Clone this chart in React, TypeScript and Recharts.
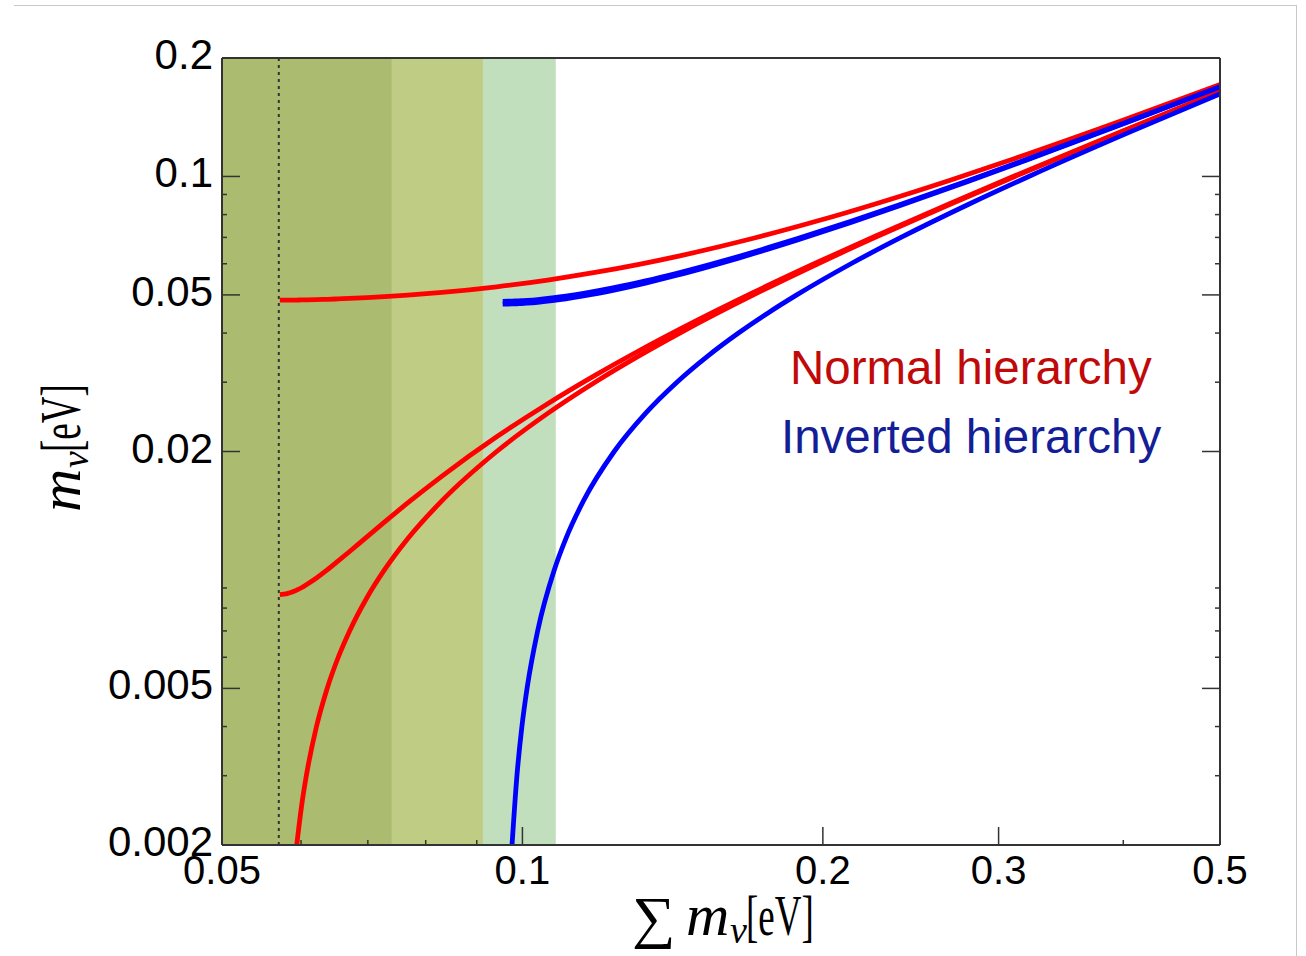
import React from 'react';
import { LineChart, Line, XAxis, YAxis, ReferenceArea, ReferenceLine } from 'recharts';

// normal hierarchy
const nhSum = [0.05714, 0.05765, 0.05821, 0.05879, 0.05941, 0.06006, 0.06074, 0.06218, 0.06373, 0.06538, 0.06712, 0.06985, 0.07273, 0.07674, 0.08307, 0.09423, 0.106, 0.11823, 0.13085, 0.14378, 0.17039, 0.19776, 0.22568, 0.26829, 0.31151, 0.39903, 0.5022];
const nhM1 = [null, null, null, null, 0.002, 0.0025, 0.003, 0.004, 0.005, 0.006, 0.007, 0.0085, 0.01, 0.012, 0.015, 0.02, 0.025, 0.03, 0.035, 0.04, 0.05, 0.06, 0.07, 0.085, 0.1, 0.13, 0.165];
const nhM2 = [0.00866, 0.00868, 0.00872, 0.00879, 0.00889, 0.00901, 0.00917, 0.00954, 0.01, 0.01054, 0.01114, 0.01214, 0.01323, 0.0148, 0.01732, 0.02179, 0.02646, 0.03123, 0.03606, 0.04093, 0.05074, 0.06062, 0.07053, 0.08544, 0.10037, 0.13029, 0.16523];
const nhM3 = [0.04848, 0.04848, 0.04849, 0.0485, 0.04852, 0.04854, 0.04857, 0.04864, 0.04873, 0.04885, 0.04898, 0.04922, 0.0495, 0.04994, 0.05074, 0.05244, 0.05454, 0.05701, 0.05979, 0.06285, 0.06964, 0.07714, 0.08515, 0.09785, 0.11113, 0.13874, 0.17197];

// inverted hierarchy
const ihSum = [0.09555, 0.09657, 0.09763, 0.09874, 0.09988, 0.10107, 0.10357, 0.10762, 0.11052, 0.11515, 0.12358, 0.13284, 0.14283, 0.15345, 0.16462, 0.17626, 0.18831, 0.2134, 0.2395, 0.28001, 0.32165, 0.407, 0.50272];
const ihM3 = [null, null, 0.002, 0.003, 0.004, 0.005, 0.007, 0.01, 0.012, 0.015, 0.02, 0.025, 0.03, 0.035, 0.04, 0.045, 0.05, 0.06, 0.07, 0.085, 0.1, 0.13, 0.163];
const ihM1 = [0.04738, 0.04739, 0.04742, 0.04748, 0.04755, 0.04765, 0.0479, 0.04843, 0.04888, 0.0497, 0.05143, 0.05357, 0.05608, 0.05891, 0.06201, 0.06535, 0.06888, 0.07645, 0.08453, 0.09731, 0.11066, 0.13837, 0.16975];
const ihM2 = [0.04817, 0.04818, 0.04821, 0.04826, 0.04833, 0.04843, 0.04867, 0.04919, 0.04964, 0.05045, 0.05215, 0.05427, 0.05675, 0.05954, 0.06261, 0.06592, 0.06943, 0.07694, 0.08497, 0.0977, 0.111, 0.13864, 0.16997];

// shaded bounds on the sum
const bandEdges = [0.05, 0.074, 0.0913, 0.108];
const bandColors = ['#abbc71', '#bfcc83', '#c1dfbc'];
const minSum = 0.057;

const xMajor = [0.05, 0.1, 0.2, 0.3, 0.5];
const xMinor = [0.06, 0.07, 0.08, 0.09, 0.4];
const yMajor = [0.2, 0.1, 0.05, 0.02, 0.005, 0.002];
const yMinor = [0.09, 0.08, 0.07, 0.06, 0.04, 0.03, 0.009, 0.008, 0.007, 0.006, 0.004, 0.003];

const xTicks = [...xMajor, ...xMinor].sort((a, b) => a - b);
const yTicks = [...yMajor, ...yMinor].sort((a, b) => a - b);

const nhData = nhSum.map((s, i) => ({ x: s, m1: nhM1[i], m2: nhM2[i], m3: nhM3[i] }));
const ihData = ihSum.map((s, i) => ({ x: s, m1: ihM1[i], m2: ihM2[i], m3: ihM3[i] }));

const SANS = '"Liberation Sans", Arial, Helvetica, sans-serif';
const SERIF = '"Liberation Serif", "Times New Roman", serif';
const AX = '#333';
const LW = 4.8;

const tickLen = (v: number, majors: number[]) => (majors.includes(v) ? 18 : 5);

const LeftTick = ({ x, y, payload }: any) => {
  const v = payload.value;
  const len = tickLen(v, yMajor);
  return (
    <g>
      <line x1={x} x2={x + len} y1={y} y2={y} stroke={AX} strokeWidth={1.5} />
      {yMajor.includes(v) && (
        <text x={x - 9} y={y + 11} textAnchor="end" fontSize={42} fontFamily={SANS} fill="#000">
          {String(v)}
        </text>
      )}
    </g>
  );
};

const RightTick = ({ x, y, payload }: any) => {
  const len = tickLen(payload.value, yMajor);
  return <line x1={x} x2={x - len} y1={y} y2={y} stroke={AX} strokeWidth={1.5} />;
};

const BottomTick = ({ x, y, payload }: any) => {
  const v = payload.value;
  const len = tickLen(v, xMajor);
  return (
    <g>
      <line x1={x} x2={x} y1={y} y2={y - len} stroke={AX} strokeWidth={1.5} />
      {xMajor.includes(v) && (
        <text x={x} y={y + 39} textAnchor="middle" fontSize={40} fontFamily={SANS} fill="#000">
          {String(v)}
        </text>
      )}
    </g>
  );
};

const TopTick = ({ x, y, payload }: any) => {
  const len = tickLen(payload.value, xMajor);
  return <line x1={x} x2={x} y1={y} y2={y + len} stroke={AX} strokeWidth={1.5} />;
};

// "m_nu[eV]" drawn from its left end on the baseline
const MassLabel = () => (
  <g>
    <text x={0} y={0} fontFamily={SERIF} fontStyle="italic" fontSize={60} fill="#000">m</text>
    <text x={44} y={8} fontFamily={SERIF} fontStyle="italic" fontSize={38} fill="#000">ν</text>
    <text transform="translate(60 0) scale(0.66 1)" x={0} y={0} fontFamily={SERIF} fontSize={56} fill="#000">[eV]</text>
  </g>
);

export default function App() {
  return (
    <div style={{ position: 'absolute', left: 0, top: 0, width: 1306, height: 956, background: '#fff' }}>
      <div
        style={{
          position: 'absolute',
          left: 14,
          top: 5,
          width: 1282,
          height: 951,
          borderTop: '1px solid #c8c8c8',
          borderRight: '1px solid #c8c8c8',
        }}
      />
      <LineChart width={1306} height={956} margin={{ top: 57, right: 85, bottom: 51, left: 0 }}>
        <XAxis
          dataKey="x"
          type="number"
          scale="log"
          domain={[0.05, 0.5]}
          allowDataOverflow
          ticks={xTicks}
          interval={0}
          tick={<BottomTick />}
          tickLine={false}
          tickSize={0}
          tickMargin={0}
          height={60}
          axisLine={{ stroke: AX, strokeWidth: 2 }}
        />
        <XAxis
          xAxisId="t"
          orientation="top"
          type="number"
          scale="log"
          domain={[0.05, 0.5]}
          allowDataOverflow
          ticks={xTicks}
          interval={0}
          tick={<TopTick />}
          tickLine={false}
          tickSize={0}
          tickMargin={0}
          height={1}
          axisLine={{ stroke: AX, strokeWidth: 2 }}
        />
        <YAxis
          type="number"
          scale="log"
          domain={[0.002, 0.2]}
          allowDataOverflow
          ticks={yTicks}
          interval={0}
          tick={<LeftTick />}
          tickLine={false}
          tickSize={0}
          tickMargin={0}
          width={222}
          axisLine={{ stroke: AX, strokeWidth: 2 }}
        />
        <YAxis
          yAxisId="r"
          orientation="right"
          type="number"
          scale="log"
          domain={[0.002, 0.2]}
          allowDataOverflow
          ticks={yTicks}
          interval={0}
          tick={<RightTick />}
          tickLine={false}
          tickSize={0}
          tickMargin={0}
          width={1}
          axisLine={{ stroke: AX, strokeWidth: 2 }}
        />

        {bandColors.map((c, i) => (
          <ReferenceArea key={i} x1={bandEdges[i]} x2={bandEdges[i + 1]} fill={c} fillOpacity={1} stroke="none" />
        ))}
        <ReferenceLine x={minSum} stroke={AX} strokeWidth={2} strokeDasharray="3 4" />

        <Line data={nhData} dataKey="m1" type="monotone" stroke="#ff0000" strokeWidth={LW} dot={false} isAnimationActive={false} />
        <Line data={nhData} dataKey="m2" type="monotone" stroke="#ff0000" strokeWidth={LW} dot={false} isAnimationActive={false} />
        <Line data={nhData} dataKey="m3" type="monotone" stroke="#ff0000" strokeWidth={LW} dot={false} isAnimationActive={false} />
        <Line data={ihData} dataKey="m3" type="monotone" stroke="#0000ff" strokeWidth={LW} dot={false} isAnimationActive={false} />
        <Line data={ihData} dataKey="m1" type="monotone" stroke="#0000ff" strokeWidth={LW} dot={false} isAnimationActive={false} />
        <Line data={ihData} dataKey="m2" type="monotone" stroke="#0000ff" strokeWidth={LW} dot={false} isAnimationActive={false} />
      </LineChart>

      <svg width={1306} height={956} style={{ position: 'absolute', left: 0, top: 0, pointerEvents: 'none' }}>
        <text x={790} y={384} fontSize={47.5} fontFamily={SANS} fill="#c00a0a">
          Normal hierarchy
        </text>
        <text x={781} y={453} fontSize={47.5} fontFamily={SANS} fill="#141e96">
          Inverted hierarchy
        </text>
        <g transform="translate(0 935)">
          <text transform="translate(632 0) scale(1.05 1)" x={0} y={2} fontFamily={SERIF} fontSize={58} fill="#000">∑</text>
          <g transform="translate(686 0)">
            <MassLabel />
          </g>
        </g>
        <g transform="translate(80 512) rotate(-90)">
          <MassLabel />
        </g>
      </svg>
    </div>
  );
}
